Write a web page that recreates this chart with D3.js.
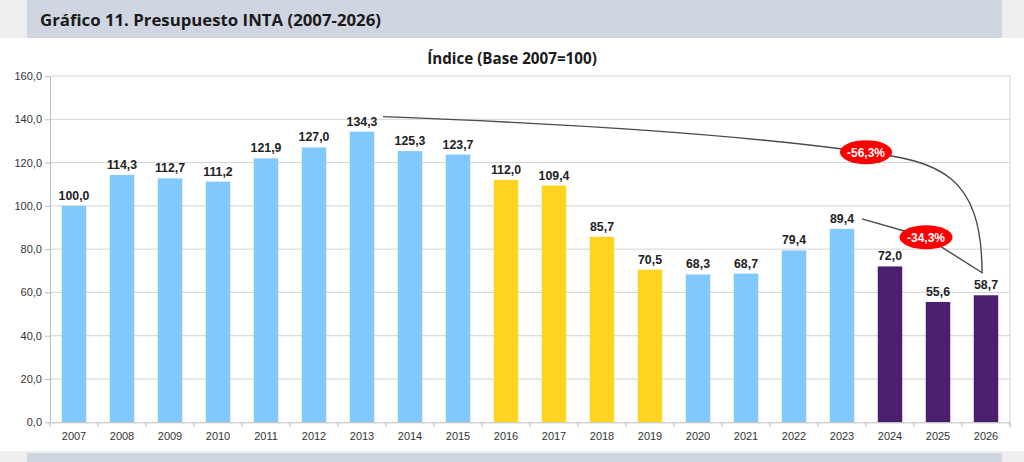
<!DOCTYPE html>
<html><head><meta charset="utf-8">
<script src="https://cdn.jsdelivr.net/npm/d3@7"></script>
<style>html,body{margin:0;padding:0;background:#fff;}svg{display:block;}</style>
</head><body>
<script>
const years = ["2007","2008","2009","2010","2011","2012","2013","2014","2015","2016","2017","2018","2019","2020","2021","2022","2023","2024","2025","2026"];
const values = [100.0,114.3,112.7,111.2,121.9,127.0,134.3,125.3,123.7,112.0,109.4,85.7,70.5,68.3,68.7,79.4,89.4,72.0,55.6,58.7];
const periods = ["a","a","a","a","a","a","a","a","a","b","b","b","b","a","a","a","a","c","c","c"];
const yTicks = [0,20,40,60,80,100,120,140,160];
const headerTitle = "Gráfico 11. Presupuesto INTA (2007-2026)";
const chartTitle = "Índice (Base 2007=100)";
const annotations = [
  {from:"2013", to:"2026", label:"-56,3%"},
  {from:"2023", to:"2026", label:"-34,3%"}
];

const W = 1024, H = 462;
const colors = {a:"#81c9fd", b:"#ffd321", c:"#4a1f6d"};
const fmt = v => d3.format(".1f")(v).replace(".", ",");

const svg = d3.select("body").append("svg").attr("width", W).attr("height", H);
svg.append("rect").attr("width", W).attr("height", H).attr("fill", "#eeeeee");
svg.append("rect").attr("x", 0).attr("y", 38).attr("width", W).attr("height", 413).attr("fill", "#ffffff");
svg.append("rect").attr("x", 27).attr("y", 0).attr("width", 975).attr("height", 38).attr("fill", "#cfd5e1");
svg.append("rect").attr("x", 27).attr("y", 453).attr("width", 975).attr("height", 9).attr("fill", "#cfd5e1");
svg.append("text").attr("x", 40).attr("y", 26).text(headerTitle)
  .attr("font-family", "Open Sans, sans-serif").attr("font-weight", "bold").attr("font-size", 16.8).attr("fill", "#1a1a1a");
svg.append("text").attr("x", 512).attr("y", 64).attr("text-anchor", "middle").text(chartTitle)
  .attr("font-family", "Open Sans, sans-serif").attr("font-weight", "bold").attr("font-size", 15.2).attr("fill", "#1a1a1a");

const x = d3.scaleBand().domain(years).range([50, 1010]).paddingInner(0.49).paddingOuter(0.245);
const xb = d3.scaleBand().domain(years).range([50, 1010]);
const y = d3.scaleLinear().domain([0, 160]).range([422.3, 76]);

// gridlines
svg.append("g").selectAll("line").data(yTicks.filter(t => t > 0)).join("line")
  .attr("x1", 50).attr("x2", 1010).attr("y1", d => y(d)).attr("y2", d => y(d))
  .attr("stroke", "#d4d4d4").attr("stroke-width", 1);
svg.append("line").attr("x1", 1010).attr("x2", 1010).attr("y1", y(160)).attr("y2", y(0) + 5)
  .attr("stroke", "#d4d4d4").attr("stroke-width", 1);

// y axis
const yAxis = svg.append("g").attr("transform", "translate(50,0)")
  .call(d3.axisLeft(y).tickValues(yTicks).tickFormat(fmt).tickSize(5).tickSizeOuter(0));
yAxis.select(".domain").attr("stroke", "#bdbdbd");
yAxis.selectAll(".tick line").attr("stroke", "#bdbdbd");
yAxis.selectAll("text").attr("font-family", "Liberation Sans, Arial, sans-serif").attr("font-size", 11).attr("fill", "#333").attr("x", -8);

// bars
svg.append("g").selectAll("rect").data(years).join("rect")
  .attr("x", d => x(d)).attr("width", x.bandwidth())
  .attr("y", (d, i) => y(values[i])).attr("height", (d, i) => y(0) - y(values[i]))
  .attr("fill", (d, i) => colors[periods[i]]);

// x axis
const xAxis = svg.append("g").attr("transform", `translate(0,${y(0)})`)
  .call(d3.axisBottom(xb).tickSize(0).tickSizeOuter(0).tickPadding(10));
xAxis.select(".domain").attr("stroke", "#bdbdbd");
xAxis.selectAll("text").attr("font-family", "Liberation Sans, Arial, sans-serif").attr("font-size", 11).attr("fill", "#333");
svg.append("g").selectAll("line").data(years.concat(["end"])).join("line")
  .attr("x1", d => d === "end" ? 1010 : xb(d)).attr("x2", d => d === "end" ? 1010 : xb(d))
  .attr("y1", y(0)).attr("y2", y(0) + 5).attr("stroke", "#bdbdbd");

// value labels
svg.append("g").selectAll("text").data(years).join("text")
  .attr("x", d => x(d) + x.bandwidth() / 2).attr("y", (d, i) => y(values[i]) - 6)
  .attr("text-anchor", "middle").text((d, i) => fmt(values[i]))
  .attr("font-family", "Liberation Sans, Arial, sans-serif").attr("font-weight", "bold").attr("font-size", 12.3).attr("fill", "#222");

// annotations
const cx = d => xb(d) + xb.bandwidth() / 2;
const val = d => values[years.indexOf(d)];
{
  const a = annotations[0];
  const p0 = [cx(a.from) + 21, y(val(a.from)) - 15];
  const p3 = [cx(a.to) - 4, y(val(a.to)) - 23];
  const e = [xb("2024"), y(124.8)];
  const path = d3.path();
  path.moveTo(p0[0], p0[1]);
  path.quadraticCurveTo(700, p0[1] + 12, e[0], e[1]);
  path.bezierCurveTo(e[0] + 72, e[1] + 9, p3[0], e[1] + 22, p3[0], p3[1]);
  svg.append("path").attr("d", path.toString()).attr("fill", "none").attr("stroke", "#4a4a4a").attr("stroke-width", 1.4);
  svg.append("ellipse").attr("cx", e[0]).attr("cy", e[1]).attr("rx", 26).attr("ry", 12).attr("fill", "#ff0000");
  svg.append("text").attr("x", e[0]).attr("y", e[1] + 4.5).attr("text-anchor", "middle").text(a.label)
    .attr("font-family", "Liberation Sans, Arial, sans-serif").attr("font-weight", "bold").attr("font-size", 12).attr("fill", "#fff");
}
{
  const a = annotations[1];
  const p0 = [cx(a.from) + 20, y(val(a.from)) - 10];
  const p3 = [cx(a.to) - 3, y(val(a.to)) - 22];
  const e = [xb("2025") + 12, y(85.5)];
  const path = d3.path();
  path.moveTo(p0[0], p0[1]);
  path.lineTo(e[0], e[1]);
  path.lineTo(p3[0], p3[1]);
  svg.append("path").attr("d", path.toString()).attr("fill", "none").attr("stroke", "#4a4a4a").attr("stroke-width", 1.4);
  svg.append("ellipse").attr("cx", e[0]).attr("cy", e[1]).attr("rx", 26.5).attr("ry", 12).attr("fill", "#ff0000");
  svg.append("text").attr("x", e[0]).attr("y", e[1] + 4.5).attr("text-anchor", "middle").text(a.label)
    .attr("font-family", "Liberation Sans, Arial, sans-serif").attr("font-weight", "bold").attr("font-size", 12).attr("fill", "#fff");
}
</script>
</body></html>
